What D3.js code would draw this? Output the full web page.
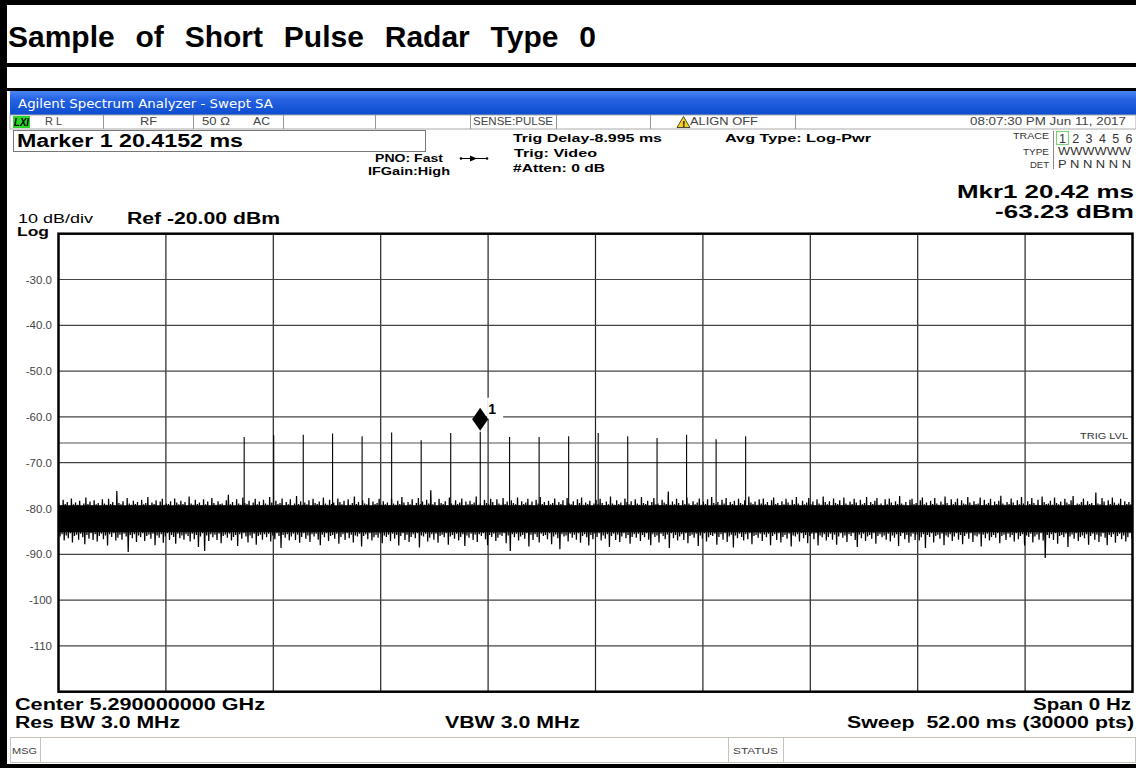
<!DOCTYPE html>
<html><head><meta charset="utf-8">
<script src="https://cdn.jsdelivr.net/npm/d3@7"></script>
<style>
body{margin:0;background:#fff}
svg{display:block}
text{font-family:"Liberation Sans",Arial,sans-serif;white-space:pre}
</style>
</head><body>
<svg id="c" width="1136" height="774"></svg>
<script>
// ---------------- data ----------------
const sweepMs = 52;                         // x span (ms), Span 0 Hz time domain
const refLevel = -20, bottomLevel = -120;   // dBm
const yTickValues = [-30, -40, -50, -60, -70, -80, -90, -100, -110];
const yTickLabels = ["-30.0", "-40.0", "-50.0", "-60.0", "-70.0", "-80.0", "-90.0", "-100", "-110"];
const pulseTimes = [8.99, 10.42, 11.85, 13.27, 14.70, 16.13, 17.56, 18.99, 20.42, 21.84, 23.27, 24.70, 26.13, 27.56, 28.98, 30.41, 31.84, 33.27];
const pulsePeaks = [-64.4, -64.0, -63.9, -63.6, -64.2, -63.4, -65.1, -63.5, -63.23, -64.4, -64.4, -64.2, -63.5, -64.2, -64.6, -63.9, -64.9, -64.2];
const markerTime = 20.4152, markerLevel = -63.23;
const trigLevel = -65.7;
const coreBand = [-79.3, -85.2];
// noise envelope, upper and lower extremes per 0.1 ms bin
const noiseMax = [
-78.9,-79.3,-78.1,-79.0,-78.6,-79.4,-77.8,-79.1,-78.7,-79.2,-78.3,-79.5,-78.9,-77.6,-79.0,-78.5,-79.3,-78.2,-79.1,-78.8,
-79.4,-78.0,-78.9,-79.2,-77.9,-79.0,-78.6,-79.3,-76.2,-78.8,-79.1,-78.4,-79.5,-77.7,-78.9,-79.2,-78.3,-79.0,-78.6,-79.4,
-78.1,-79.1,-78.8,-77.5,-79.3,-78.7,-79.0,-78.2,-79.4,-78.5,-77.9,-79.2,-78.9,-79.0,-78.4,-79.5,-77.8,-78.7,-79.1,-78.3,
-79.0,-78.6,-79.4,-77.4,-78.9,-79.2,-78.1,-79.0,-78.7,-79.3,-78.0,-79.1,-78.5,-79.4,-77.7,-78.8,-79.2,-78.4,-79.0,-78.9,
-79.3,-78.2,-77.0,-79.1,-78.6,-79.4,-78.0,-78.9,-79.2,-77.6,-78.8,-79.0,-78.3,-79.5,-78.7,-77.9,-79.1,-78.5,-79.3,-78.1,
-78.9,-79.2,-77.5,-78.7,-79.4,-78.3,-79.0,-78.8,-77.8,-79.3,-78.6,-79.1,-78.0,-79.4,-78.9,-77.3,-79.0,-78.4,-79.2,-78.7,
-79.1,-78.2,-79.4,-77.9,-78.8,-79.0,-78.5,-79.3,-77.6,-78.9,-79.2,-78.1,-79.0,-78.7,-79.5,-77.8,-78.6,-79.1,-78.3,-79.4,
-78.0,-79.2,-78.8,-77.4,-79.0,-78.6,-79.3,-78.2,-78.9,-79.1,-77.7,-79.4,-78.5,-79.0,-78.8,-77.9,-79.2,-78.4,-79.1,-78.7,
-79.3,-77.8,-78.9,-79.2,-78.3,-79.0,-77.5,-78.7,-79.4,-78.6,-79.1,-78.0,-79.3,-78.8,-77.7,-79.0,-78.5,-79.2,-78.1,-78.9,
-76.0,-79.1,-78.6,-79.4,-77.9,-78.8,-79.0,-78.4,-79.3,-77.6,-78.9,-79.2,-78.2,-79.0,-78.7,-77.8,-79.4,-78.5,-79.1,-78.3,
-79.0,-78.7,-77.4,-79.2,-78.9,-79.4,-78.1,-78.8,-79.1,-77.9,-78.6,-79.3,-78.0,-78.9,-79.2,-77.7,-79.0,-78.5,-79.4,-78.2,
-78.8,-79.1,-77.6,-79.3,-78.4,-79.0,-78.7,-77.9,-79.2,-78.5,-79.4,-78.1,-78.9,-77.5,-79.0,-78.6,-79.3,-78.3,-79.1,-78.8,
-77.8,-79.2,-78.6,-79.0,-78.2,-79.4,-77.7,-78.9,-79.1,-78.4,-79.3,-78.0,-78.8,-77.6,-79.2,-78.7,-79.0,-78.3,-79.4,-78.9,
-78.1,-79.0,-77.9,-78.8,-79.3,-78.5,-79.1,-77.4,-78.9,-79.2,-78.2,-79.0,-78.7,-79.4,-77.8,-78.6,-79.1,-78.4,-79.3,-78.0,
-78.9,-79.2,-77.5,-78.8,-79.0,-78.3,-79.4,-78.6,-77.7,-79.1,-78.9,-79.3,-78.1,-78.7,-79.0,-76.3,-79.2,-78.5,-79.1,-77.9,
-78.8,-79.4,-78.2,-79.0,-77.6,-78.9,-79.3,-78.4,-79.1,-78.7,-77.8,-79.2,-78.5,-79.0,-78.0,-79.4,-77.5,-78.8,-79.1,-78.6,
-79.2,-78.1,-78.9,-77.7,-79.3,-78.6,-79.0,-78.3,-79.4,-77.9,-78.8,-79.1,-78.2,-79.3,-77.4,-78.7,-79.0,-78.5,-79.2,-78.0,
-78.9,-77.8,-79.1,-78.6,-79.4,-78.2,-77.6,-79.0,-78.8,-79.3,-78.4,-79.1,-77.9,-78.7,-79.2,-78.1,-79.0,-77.5,-78.9,-79.4,
-78.3,-79.1,-78.7,-77.7,-79.0,-78.5,-79.3,-78.0,-78.9,-79.2,-77.4,-78.6,-79.1,-78.4,-79.4,-77.8,-78.8,-79.0,-78.2,-79.3,
-77.6,-78.9,-79.2,-78.5,-79.0,-77.9,-78.7,-79.4,-78.1,-79.1,-78.8,-77.5,-79.3,-78.6,-79.0,-78.3,-77.7,-79.2,-78.9,-79.4,
-78.0,-79.1,-77.8,-78.7,-79.3,-78.4,-79.0,-77.3,-78.9,-79.2,-78.6,-79.4,-78.1,-77.9,-79.0,-78.8,-79.3,-78.2,-77.6,-79.1,
-78.7,-79.4,-78.3,-79.0,-77.7,-78.9,-79.2,-78.5,-79.1,-77.4,-78.8,-79.3,-78.0,-79.0,-78.6,-77.8,-79.4,-78.2,-78.9,-79.1,
-77.5,-78.7,-79.2,-78.4,-79.0,-78.9,-77.6,-79.3,-78.1,-79.1,-78.8,-77.9,-79.4,-78.5,-79.0,-78.3,-77.2,-78.9,-79.2,-78.6,
-79.0,-77.8,-78.7,-79.3,-78.2,-79.1,-77.5,-78.9,-79.4,-78.4,-79.0,-77.7,-78.8,-79.2,-78.1,-79.3,-77.4,-78.6,-79.0,-78.9,
-78.3,-79.2,-77.6,-78.8,-79.1,-78.5,-79.4,-77.9,-78.7,-79.0,-78.2,-77.3,-79.3,-78.9,-79.1,-78.6,-77.8,-79.2,-78.4,-79.0,
-78.8,-79.3,-76.5,-78.9,-79.1,-77.7,-78.5,-79.4,-78.2,-79.0,-77.6,-78.7,-79.2,-78.9,-77.9,-79.3,-78.4,-79.0,-78.6,-79.1];
const noiseMin = [
-86.1,-85.6,-87.0,-85.9,-86.5,-85.4,-87.4,-86.0,-85.7,-86.8,-85.5,-86.3,-87.8,-85.8,-86.6,-85.4,-86.9,-85.6,-87.2,-86.0,
-85.5,-86.7,-85.9,-88.1,-85.6,-86.2,-85.4,-87.0,-86.4,-85.7,-86.8,-85.5,-86.1,-89.5,-85.8,-86.5,-85.6,-87.3,-85.9,-86.3,
-85.4,-87.1,-86.0,-85.7,-86.6,-85.5,-88.0,-85.9,-86.4,-85.6,-87.5,-86.1,-85.4,-86.9,-85.8,-86.2,-87.7,-85.5,-86.5,-85.9,
-86.8,-85.6,-86.0,-87.2,-85.5,-86.7,-85.8,-88.4,-86.1,-85.4,-89.3,-85.9,-87.1,-85.6,-86.3,-85.7,-86.9,-85.5,-87.6,-86.0,
-85.7,-86.4,-85.5,-87.0,-86.2,-85.8,-88.2,-85.6,-86.6,-85.4,-86.1,-87.4,-85.9,-86.5,-85.5,-87.9,-86.0,-85.7,-86.8,-85.6,
-86.3,-85.5,-87.2,-85.9,-86.7,-85.4,-86.0,-88.6,-85.8,-86.4,-85.6,-87.0,-86.1,-85.5,-86.9,-85.7,-87.5,-86.2,-85.4,-86.6,
-85.9,-87.3,-85.6,-86.1,-85.5,-86.8,-88.0,-85.7,-86.3,-85.4,-87.1,-86.0,-85.8,-86.6,-85.5,-87.7,-86.2,-85.6,-86.9,-85.4,
-86.5,-85.7,-87.4,-85.9,-86.1,-85.5,-88.3,-86.0,-85.6,-86.7,-85.4,-87.0,-86.3,-85.8,-86.4,-85.5,-87.6,-85.9,-86.2,-85.7,
-87.1,-85.5,-86.6,-85.8,-88.1,-86.0,-85.4,-86.9,-85.7,-87.3,-86.2,-85.6,-86.5,-85.4,-88.5,-85.9,-86.1,-85.5,-87.2,-86.4,
-85.6,-86.8,-85.5,-87.5,-86.0,-85.7,-86.3,-85.4,-87.9,-86.1,-85.8,-86.6,-85.5,-87.0,-86.2,-85.6,-88.2,-85.9,-86.4,-85.5,
-86.9,-85.7,-87.3,-85.6,-86.0,-85.4,-86.7,-88.0,-85.8,-86.2,-85.5,-87.1,-86.4,-85.7,-86.0,-85.4,-87.6,-85.9,-89.3,-85.6,
-86.3,-85.5,-87.0,-86.1,-85.8,-86.6,-85.4,-88.3,-85.7,-86.9,-85.6,-86.2,-87.4,-85.5,-86.0,-85.8,-86.7,-85.4,-87.8,-86.1,
-85.7,-86.5,-88.9,-85.6,-86.1,-85.9,-87.2,-85.5,-86.4,-85.7,-86.8,-85.4,-87.5,-86.0,-85.6,-86.3,-88.1,-85.8,-86.7,-85.5,
-86.2,-85.4,-87.0,-85.9,-86.6,-85.6,-88.4,-86.0,-85.5,-86.9,-85.7,-87.3,-86.1,-85.4,-86.5,-85.8,-87.7,-86.2,-85.6,-86.4,
-85.5,-87.1,-85.8,-86.3,-85.4,-86.8,-88.0,-85.6,-86.2,-85.9,-87.4,-85.5,-86.0,-86.7,-85.7,-88.6,-85.4,-86.5,-85.8,-87.0,
-86.1,-85.6,-86.9,-85.4,-87.6,-86.0,-85.7,-86.4,-85.5,-88.2,-85.9,-86.6,-85.4,-87.2,-86.3,-85.8,-86.0,-85.5,-87.9,-86.2,
-85.6,-86.8,-85.4,-87.3,-86.1,-85.7,-88.5,-85.9,-86.5,-85.5,-86.2,-87.0,-85.6,-86.7,-85.4,-87.8,-86.0,-85.8,-86.4,-85.5,
-87.1,-85.7,-86.3,-85.5,-88.0,-86.0,-85.6,-86.9,-85.4,-87.4,-86.2,-85.8,-86.6,-85.5,-88.3,-85.9,-86.1,-85.6,-87.2,-85.4,
-86.5,-85.8,-87.6,-86.0,-85.5,-86.7,-85.4,-88.1,-85.9,-86.3,-85.6,-87.0,-86.2,-85.5,-86.8,-85.7,-87.9,-86.1,-85.4,-86.4,
-85.9,-87.3,-85.6,-86.0,-85.4,-86.9,-88.4,-85.7,-86.5,-85.5,-87.1,-86.1,-85.8,-86.6,-85.4,-87.7,-86.0,-85.6,-86.3,-85.9,
-86.8,-85.5,-87.2,-85.9,-86.4,-85.6,-88.2,-86.0,-85.4,-86.7,-85.8,-87.5,-86.1,-85.5,-86.9,-85.7,-87.0,-86.3,-85.6,-88.6,
-85.8,-86.2,-85.4,-87.4,-86.0,-85.7,-86.6,-85.5,-88.0,-85.9,-86.3,-85.6,-87.1,-86.1,-85.4,-86.8,-85.8,-87.8,-86.0,-85.5,
-86.6,-85.4,-87.3,-85.9,-86.1,-85.6,-88.3,-85.7,-86.5,-85.5,-87.0,-86.2,-85.8,-86.4,-85.4,-87.6,-86.0,-85.7,-86.9,-85.5,
-86.3,-85.8,-87.2,-85.4,-86.7,-86.0,-85.6,-88.1,-85.9,-86.2,-85.5,-87.4,-86.1,-85.7,-86.8,-85.4,-87.0,-90.8,-85.8,-86.5,
-85.6,-86.9,-85.4,-87.7,-86.0,-85.8,-86.3,-85.5,-88.4,-86.1,-85.7,-86.6,-85.4,-87.1,-86.2,-85.9,-86.5,-85.6,-87.9,-86.0,
-85.5,-86.8,-85.7,-87.3,-86.1,-85.4,-86.4,-88.0,-85.8,-86.2,-85.6,-87.5,-86.0,-85.5,-86.7,-85.9,-87.2,-86.3,-85.4,-86.6];
const traceNumbers = ["1", "2", "3", "4", "5", "6"];

// ---------------- drawing ----------------
const svg = d3.select("#c");
const W = 1136, H = 774;
const x = d3.scaleLinear().domain([0, sweepMs]).range([58.5, 1132.5]);
const y = d3.scaleLinear().domain([bottomLevel, refLevel]).range([691.7, 233.7]);

const defs = svg.append("defs");
const g1 = defs.append("linearGradient").attr("id", "blue").attr("x1", 0).attr("y1", 0).attr("x2", 0).attr("y2", 1);
g1.append("stop").attr("offset", "0").attr("stop-color", "#4a86f2");
g1.append("stop").attr("offset", "0.35").attr("stop-color", "#2563e3");
g1.append("stop").attr("offset", "1").attr("stop-color", "#0d4bcf");
defs.append("clipPath").attr("id", "plotClip").append("rect")
  .attr("x", x(0)).attr("y", y(refLevel)).attr("width", x(sweepMs) - x(0)).attr("height", y(bottomLevel) - y(refLevel));

function txt(parent, s, o) {
  const t = parent.append("text").attr("x", o.x).attr("y", o.y).text(s)
    .attr("font-size", o.size || 12)
    .attr("font-weight", o.bold ? "bold" : "normal")
    .attr("fill", o.fill || "#000");
  if (o.anchor) t.attr("text-anchor", o.anchor);
  if (o.family) t.style("font-family", o.family);
  if (o.italic) t.attr("font-style", "italic");
  if (o.len) t.attr("textLength", o.len).attr("lengthAdjust", "spacingAndGlyphs");
  return t;
}

// page frame
svg.append("rect").attr("width", W).attr("height", H).attr("fill", "#fff");
svg.append("rect").attr("x", 0).attr("y", 0).attr("width", 7).attr("height", 768).attr("fill", "#000");
svg.append("rect").attr("x", 0).attr("y", 0).attr("width", W).attr("height", 5).attr("fill", "#000");
svg.append("rect").attr("x", 0).attr("y", 63).attr("width", W).attr("height", 4).attr("fill", "#000");
svg.append("rect").attr("x", 0).attr("y", 88).attr("width", W).attr("height", 3).attr("fill", "#000");
svg.append("rect").attr("x", 0).attr("y", 764).attr("width", W).attr("height", 4).attr("fill", "#000");

txt(svg, "Sample of Short Pulse Radar Type 0", {x: 8, y: 47, size: 30, bold: true})
  .attr("word-spacing", 12.5);

// analyzer window title bar
svg.append("rect").attr("x", 10).attr("y", 91).attr("width", W - 10).attr("height", 24).attr("fill", "url(#blue)");
txt(svg, "Agilent Spectrum Analyzer - Swept SA", {x: 18, y: 108, size: 11.5, fill: "#fff", len: 255, family: "'DejaVu Sans',sans-serif"});

// status row
const sr = svg.append("g");
sr.append("rect").attr("x", 10).attr("y", 115).attr("width", W - 10).attr("height", 14).attr("fill", "#fff")
  .attr("stroke", "#aaa").attr("stroke-width", 1);
[103, 193, 283, 375, 470, 556, 650, 795].forEach(v =>
  sr.append("line").attr("x1", v + 0.5).attr("x2", v + 0.5).attr("y1", 115).attr("y2", 129).attr("stroke", "#999"));
sr.append("rect").attr("x", 13).attr("y", 116).attr("width", 17).attr("height", 12).attr("fill", "#2bd42b");
txt(sr, "LXI", {x: 14, y: 126, size: 10, bold: true, italic: true, len: 15});
txt(sr, "R L", {x: 45, y: 125, size: 10.5, fill: "#444", len: 17});
txt(sr, "RF", {x: 140, y: 125, size: 10.5, fill: "#444", len: 17});
txt(sr, "50 Ω", {x: 202, y: 125, size: 10.5, fill: "#444", len: 28});
txt(sr, "AC", {x: 253, y: 125, size: 10.5, fill: "#444", len: 17});
txt(sr, "SENSE:PULSE", {x: 473, y: 125, size: 10.5, fill: "#444", len: 80});
sr.append("path").attr("d", "M677,127.5 L683.5,116.5 L690,127.5 Z").attr("fill", "#f2d21b").attr("stroke", "#222").attr("stroke-width", 0.8);
txt(sr, "!", {x: 682.3, y: 126.5, size: 9, bold: true});
txt(sr, "ALIGN OFF", {x: 690, y: 125, size: 10.5, fill: "#444", len: 68});
txt(sr, "08:07:30 PM Jun 11, 2017", {x: 970, y: 125, size: 10.5, fill: "#444", len: 156});

// marker readout box
svg.append("rect").attr("x", 13.5).attr("y", 130.5).attr("width", 412).attr("height", 21).attr("fill", "#fff").attr("stroke", "#777");
txt(svg, "Marker 1 20.4152 ms", {x: 17, y: 147, size: 18, bold: true, len: 226});

txt(svg, "PNO: Fast", {x: 375, y: 161.5, size: 11, bold: true, len: 68});
txt(svg, "IFGain:High", {x: 368, y: 175, size: 11, bold: true, len: 82});
// free-run / trigger symbol
svg.append("line").attr("x1", 460).attr("x2", 488).attr("y1", 158.5).attr("y2", 158.5).attr("stroke", "#000").attr("stroke-width", 1);
svg.append("path").attr("d", "M470,155.5 L477,158.5 L470,161.5 Z").attr("fill", "#000");
svg.append("circle").attr("cx", 461).attr("cy", 158.5).attr("r", 1.3).attr("fill", "#000");
svg.append("circle").attr("cx", 487).attr("cy", 158.5).attr("r", 1.3).attr("fill", "#000");

txt(svg, "Trig Delay-8.995 ms", {x: 513, y: 142, size: 11.5, bold: true, len: 149});
txt(svg, "Trig: Video", {x: 514, y: 157, size: 11.5, bold: true, len: 83});
txt(svg, "#Atten: 0 dB", {x: 513, y: 172, size: 11.5, bold: true, len: 92});
txt(svg, "Avg Type: Log-Pwr", {x: 725, y: 142, size: 11.5, bold: true, len: 146});

// trace box
txt(svg, "TRACE", {x: 1049, y: 139, size: 9, fill: "#333", anchor: "end", len: 36});
txt(svg, "TYPE", {x: 1049, y: 155, size: 9, fill: "#333", anchor: "end", len: 26});
txt(svg, "DET", {x: 1049, y: 167.5, size: 9, fill: "#333", anchor: "end", len: 19});
svg.append("line").attr("x1", 1053.5).attr("x2", 1053.5).attr("y1", 131).attr("y2", 169).attr("stroke", "#888");
svg.append("rect").attr("x", 1056.5).attr("y", 131.5).attr("width", 12).attr("height", 13).attr("fill", "none").attr("stroke", "#7fcf7f").attr("stroke-width", 1.2);
traceNumbers.forEach((n, i) =>
  txt(svg, n, {x: 1062.5 + i * 13.3, y: 143, size: 12.5, fill: "#333", anchor: "middle"}));
txt(svg, "WWWWWW", {x: 1058, y: 155, size: 10, fill: "#333", len: 73});
txt(svg, "P N N N N N", {x: 1058, y: 167.5, size: 10.5, fill: "#333", len: 73});

txt(svg, "Mkr1 20.42 ms", {x: 1134, y: 198, size: 19, bold: true, anchor: "end", len: 177});
txt(svg, "-63.23 dBm", {x: 1134, y: 218, size: 19, bold: true, anchor: "end", len: 139});

txt(svg, "10 dB/div", {x: 18, y: 222.5, size: 12.5, len: 75});
txt(svg, "Log", {x: 17, y: 235.5, size: 12.5, bold: true, len: 32});
txt(svg, "Ref -20.00 dBm", {x: 127, y: 223.5, size: 16, bold: true, len: 153});

// ---------------- plot ----------------
const plot = svg.append("g");
const gridTimes = d3.range(0, 11).map(i => sweepMs * i / 10);
plot.selectAll("line.vg").data(gridTimes.slice(1, -1)).join("line").attr("class", "vg")
  .attr("x1", d => x(d)).attr("x2", d => x(d)).attr("y1", y(refLevel)).attr("y2", y(bottomLevel))
  .attr("stroke", "#222").attr("stroke-width", 1.2);
plot.selectAll("line.hg").data(yTickValues).join("line").attr("class", "hg")
  .attr("x1", x(0)).attr("x2", x(sweepMs)).attr("y1", d => y(d)).attr("y2", d => y(d))
  .attr("stroke", "#444").attr("stroke-width", 1.2);
// trigger level line
plot.append("line").attr("x1", x(0)).attr("x2", x(sweepMs)).attr("y1", y(trigLevel)).attr("y2", y(trigLevel))
  .attr("stroke", "#555").attr("stroke-width", 1.1);
txt(plot, "TRIG LVL", {x: 1128, y: y(trigLevel) - 4, size: 9, fill: "#333", anchor: "end", len: 48});

// y labels
yTickValues.forEach((v, i) =>
  txt(plot, yTickLabels[i], {x: 52, y: y(v) + 4, size: 11.5, fill: "#444", anchor: "end"}));

// noise trace
const tr = plot.append("g").attr("clip-path", "url(#plotClip)");
const binW = sweepMs / noiseMax.length;
const pts = [];
noiseMax.forEach((v, i) => {
  pts.push([i * binW + binW * 0.25, v]);
  pts.push([i * binW + binW * 0.75, noiseMin[i]]);
});
tr.append("path").datum([0, sweepMs])
  .attr("d", d3.area().x(d => x(d)).y0(y(coreBand[1])).y1(y(coreBand[0])))
  .attr("fill", "#000");
tr.append("path").datum(pts)
  .attr("d", d3.line().x(d => x(d[0])).y(d => y(d[1])))
  .attr("fill", "none").attr("stroke", "#000").attr("stroke-width", 1.25);
// pulses
tr.selectAll("line.p").data(pulseTimes).join("line").attr("class", "p")
  .attr("x1", d => x(d)).attr("x2", d => x(d))
  .attr("y1", y(-81)).attr("y2", (d, i) => y(pulsePeaks[i]))
  .attr("stroke", "#000").attr("stroke-width", 1.1);

// plot border
plot.append("rect").attr("x", x(0)).attr("y", y(refLevel)).attr("width", x(sweepMs) - x(0)).attr("height", y(bottomLevel) - y(refLevel))
  .attr("fill", "none").attr("stroke", "#000").attr("stroke-width", 2.5);

// marker
const mx = x(markerTime), my = y(markerLevel);
plot.append("rect").attr("x", mx + 7).attr("y", my - 34).attr("width", 16).attr("height", 21).attr("fill", "#fff");
plot.append("path").attr("d", `M${mx},${my - 1} L${mx + 8},${my - 12.5} L${mx},${my - 24} L${mx - 8},${my - 12.5} Z`).attr("fill", "#000");
txt(plot, "1", {x: mx + 8, y: my - 18, size: 14, bold: true});

// bottom annotations
txt(svg, "Center 5.290000000 GHz", {x: 15, y: 710, size: 16, bold: true, len: 250});
txt(svg, "Res BW 3.0 MHz", {x: 15, y: 728, size: 16, bold: true, len: 165});
txt(svg, "VBW 3.0 MHz", {x: 445, y: 728, size: 16, bold: true, len: 135});
txt(svg, "Span 0 Hz", {x: 1131, y: 710, size: 16, bold: true, anchor: "end", len: 98});
txt(svg, "Sweep  52.00 ms (30000 pts)", {x: 1134, y: 728, size: 16, bold: true, anchor: "end", len: 287});

// message bar
const mb = svg.append("g");
mb.append("rect").attr("x", 10.5).attr("y", 737.5).attr("width", W - 11).attr("height", 25).attr("fill", "#fff").attr("stroke", "#c8c2ba");
[40, 728, 783].forEach(v => mb.append("line").attr("x1", v + 0.5).attr("x2", v + 0.5).attr("y1", 738).attr("y2", 762).attr("stroke", "#c8c2ba"));
txt(mb, "MSG", {x: 12, y: 754, size: 9, fill: "#444", len: 25});
txt(mb, "STATUS", {x: 733, y: 754, size: 9, fill: "#444", len: 45});
</script>
</body></html>
